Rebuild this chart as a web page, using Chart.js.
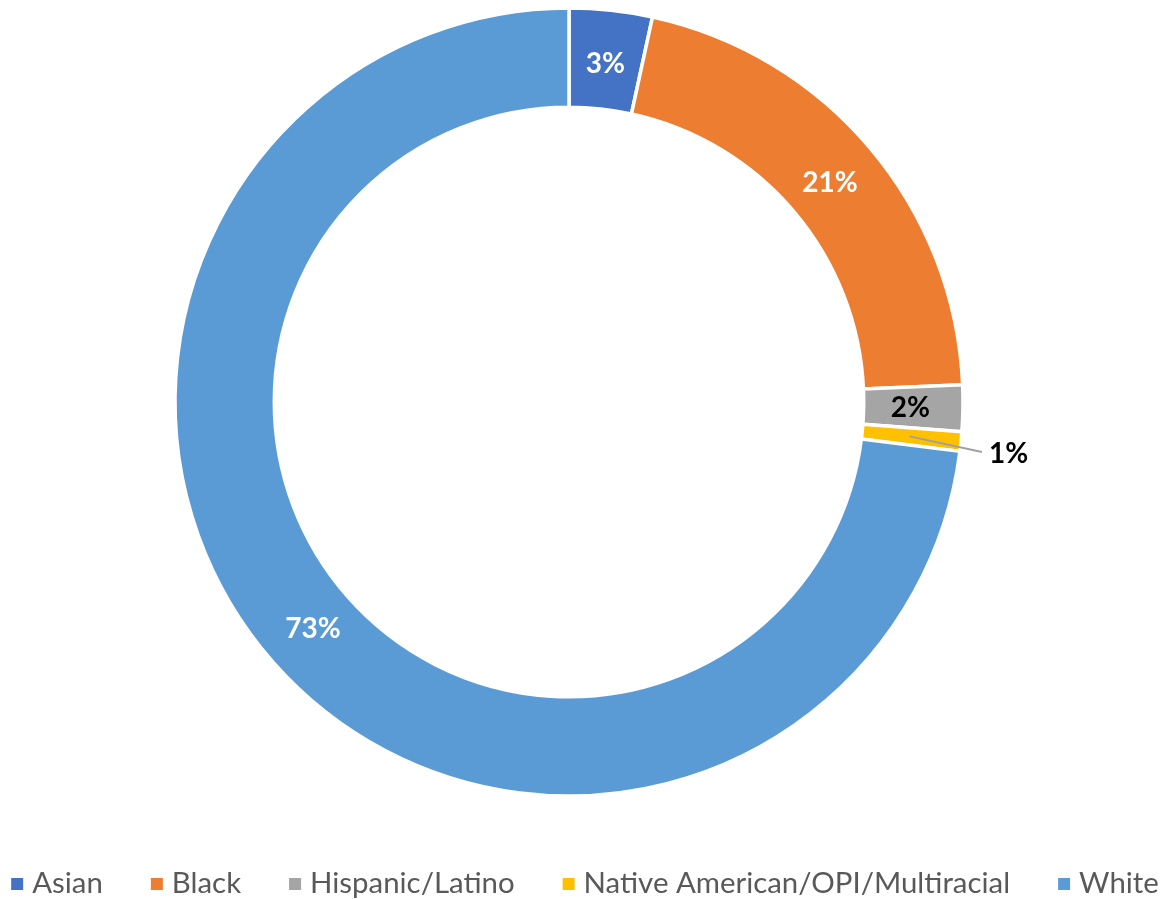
<!DOCTYPE html>
<html><head><meta charset="utf-8">
<script src="https://cdn.jsdelivr.net/npm/chart.js@4"></script>
<style>html,body{margin:0;padding:0;background:#fff;overflow:hidden}</style>
</head><body>
<canvas id="c" width="1168" height="899"></canvas>
<script>
const categories = ['Asian', 'Black', 'Hispanic/Latino', 'Native American/OPI/Multiracial', 'White'];
const shares = [3.4, 20.9, 1.9, 0.8, 73.0];
const sliceColors = ['#4472C4', '#ED7D31', '#A5A5A5', '#FFC000', '#5B9BD5'];
const labelColors = ['#FFFFFF', '#FFFFFF', '#000000', '#000000', '#FFFFFF'];
const calloutSlices = [false, false, false, true, false];

const sliceLabels = {
  id: 'sliceLabels',
  afterDatasetsDraw(chart) {
    const ctx = chart.ctx;
    const meta = chart.getDatasetMeta(0);
    const total = shares.reduce((a, b) => a + b, 0);
    ctx.save();
    ctx.font = 'bold 28px Lato, "Open Sans", sans-serif';
    ctx.textBaseline = 'middle';
    meta.data.forEach((arc, i) => {
      const txt = Math.round(shares[i] / total * 100) + '%';
      const p = arc.getProps(['x', 'y', 'startAngle', 'endAngle', 'innerRadius', 'outerRadius'], true);
      const mid = (p.startAngle + p.endAngle) / 2;
      const rMid = (p.innerRadius + p.outerRadius) / 2;
      ctx.fillStyle = labelColors[i];
      if (calloutSlices[i]) {
        const r1 = rMid - 2;
        const r2 = p.outerRadius + 22;
        const a2 = mid + 0.02;
        const x1 = p.x + Math.cos(mid) * r1, y1 = p.y + Math.sin(mid) * r1;
        const x2 = p.x + Math.cos(a2) * r2, y2 = p.y + Math.sin(a2) * r2;
        ctx.strokeStyle = '#A0A0A0';
        ctx.lineWidth = 2;
        ctx.beginPath(); ctx.moveTo(x1, y1); ctx.lineTo(x2, y2); ctx.stroke();
        ctx.textAlign = 'left';
        ctx.fillText(txt, x2 + 7, y2 + 2);
      } else {
        const r = rMid - 3;
        ctx.textAlign = 'center';
        ctx.fillText(txt, p.x + Math.cos(mid) * r, p.y + Math.sin(mid) * r + 1);
      }
    });
    ctx.restore();
  }
};

const bottomLegend = {
  id: 'bottomLegend',
  afterDraw(chart) {
    const ctx = chart.ctx;
    const labels = chart.data.labels;
    const colors = chart.data.datasets[0].backgroundColor;
    const box = 12, textGap = 9, itemGap = 48;
    ctx.save();
    ctx.font = '29.4px Lato, "Open Sans", sans-serif';
    ctx.textBaseline = 'middle';
    ctx.textAlign = 'left';
    const widths = labels.map(l => ctx.measureText(l).width);
    const totalW = widths.reduce((a, w) => a + box + textGap + w, 0) + itemGap * (labels.length - 1);
    let x = (chart.width - totalW) / 2 + 1;
    const y = chart.height - 15;
    labels.forEach((l, i) => {
      ctx.fillStyle = colors[i];
      ctx.fillRect(x, y - box / 2, box, box);
      ctx.fillStyle = '#595959';
      ctx.fillText(l, x + box + textGap, y);
      x += box + textGap + widths[i] + itemGap;
    });
    ctx.restore();
  }
};

new Chart(document.getElementById('c'), {
  type: 'doughnut',
  data: {
    labels: categories,
    datasets: [{
      data: shares,
      backgroundColor: sliceColors,
      borderColor: '#FFFFFF',
      borderWidth: 3.5,
      radius: 394,
      hoverOffset: 0,
      clip: false
    }]
  },
  options: {
    responsive: false,
    animation: false,
    cutout: '74.8%',
    layout: { padding: { left: 0, right: 30, top: 0, bottom: 95 } },
    plugins: {
      tooltip: { enabled: false },
      legend: { display: false }
    }
  },
  plugins: [sliceLabels, bottomLegend]
});
</script>
</body></html>
